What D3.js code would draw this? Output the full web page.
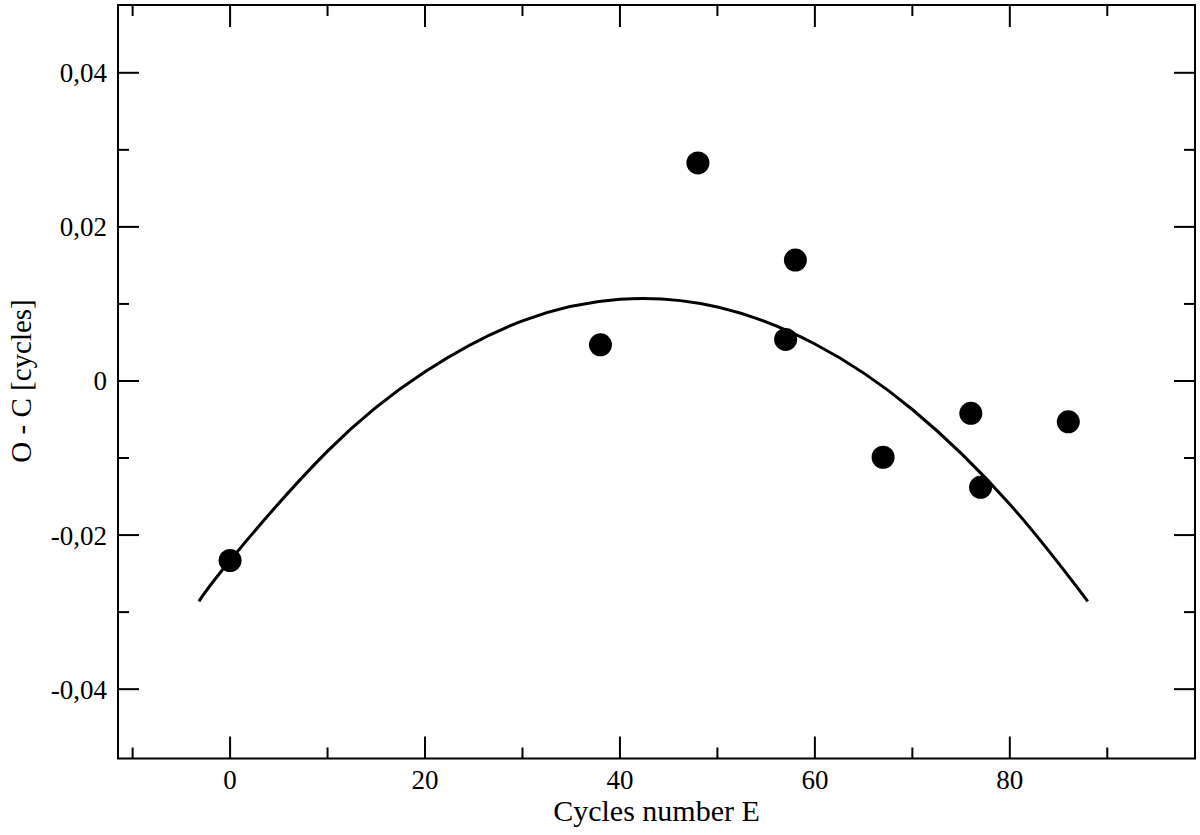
<!DOCTYPE html>
<html>
<head>
<meta charset="utf-8">
<script src="https://cdn.jsdelivr.net/npm/d3@7"></script>
<style>
  body { margin: 0; background: #fff; }
  svg { display: block; }
  text { font-family: "Liberation Serif", "DejaVu Serif", serif; fill: #000; }
</style>
</head>
<body>
<svg id="chart" width="1200" height="835"></svg>
<script>
// Observed minima: cycle number E and O - C residual
var cycles = [0, 38, 48, 57, 58, 67, 76, 77, 86];
var residuals = [-0.0233, 0.0047, 0.0283, 0.0054, 0.0157, -0.0099, -0.0042, -0.0138, -0.0053];

// Fitted curve
var fitE = [-3.2, 0, 10, 20, 30, 40, 50, 60, 70, 80, 88];
var fitOC = [-0.0286, -0.0233, -0.0091, 0.0012, 0.0078, 0.0106, 0.0096, 0.0048, -0.0037, -0.0160, -0.0286];

var xMajor = [0, 20, 40, 60, 80];
var xMinor = [-10, 10, 30, 50, 70, 90];
var yMajor = [-0.04, -0.02, 0, 0.02, 0.04];
var yMinor = [-0.03, -0.01, 0.01, 0.03];

const plotLeft = 118, plotRight = 1195, plotTop = 5, plotBottom = 758.5;

var svg = d3.select("#chart");

var xScale = d3.scaleLinear().domain([-11.5, 99]).range([plotLeft, plotRight]);
var yScale = d3.scaleLinear().domain([-0.049, 0.0488]).range([plotBottom, plotTop]);

// decimal comma and a plain hyphen for the minus sign
function fmt(v) {
    if (v === 0) return "0";
    return d3.format(".2f")(v).replace(".", ",").replace("\u2212", "-");
}

/**** frame ****/
svg.append("rect")
    .attr("x", plotLeft)
    .attr("y", plotTop)
    .attr("width", plotRight - plotLeft)
    .attr("height", plotBottom - plotTop)
    .attr("fill", "none")
    .attr("stroke", "#000")
    .attr("stroke-width", 2);

/**** ticks on all four sides ****/
var ticks = svg.append("g").attr("stroke", "#000").attr("stroke-width", 2);

function xTicks(values, len) {
    values.forEach(function(v) {
        var x = xScale(v);
        ticks.append("line").attr("x1", x).attr("x2", x).attr("y1", plotBottom).attr("y2", plotBottom - len);
        ticks.append("line").attr("x1", x).attr("x2", x).attr("y1", plotTop).attr("y2", plotTop + len);
    });
}
function yTicks(values, len) {
    values.forEach(function(v) {
        var y = yScale(v);
        ticks.append("line").attr("x1", plotLeft).attr("x2", plotLeft + len).attr("y1", y).attr("y2", y);
        ticks.append("line").attr("x1", plotRight).attr("x2", plotRight - len).attr("y1", y).attr("y2", y);
    });
}
xTicks(xMajor, 22);
xTicks(xMinor, 11);
yTicks(yMajor, 21);
yTicks(yMinor, 11);

/**** tick labels ****/
svg.append("g").selectAll("text")
    .data(xMajor)
    .enter()
    .append("text")
    .attr("x", function(d) { return xScale(d); })
    .attr("y", 789)
    .attr("text-anchor", "middle")
    .style("font-size", "27px")
    .text(function(d) { return d; });

svg.append("g").selectAll("text")
    .data(yMajor)
    .enter()
    .append("text")
    .attr("x", 107)
    .attr("y", function(d) { return yScale(d) + 9.5; })
    .attr("text-anchor", "end")
    .style("font-size", "27px")
    .text(fmt);

/**** axis titles ****/
svg.append("text")
    .attr("x", (plotLeft + plotRight) / 2)
    .attr("y", 821)
    .attr("text-anchor", "middle")
    .style("font-size", "30px")
    .text("Cycles number E");

svg.append("text")
    .attr("transform", "translate(31," + yScale(0) + ") rotate(-90)")
    .attr("text-anchor", "middle")
    .style("font-size", "29px")
    .text("O - C [cycles]");

/**** fitted curve ****/
var line = d3.line()
    .x(function(d, i) { return xScale(fitE[i]); })
    .y(function(d) { return yScale(d); })
    .curve(d3.curveNatural);

svg.append("path")
    .datum(fitOC)
    .attr("d", line)
    .attr("fill", "none")
    .attr("stroke", "#000")
    .attr("stroke-width", 3);

/**** observations ****/
svg.append("g").selectAll("circle")
    .data(cycles)
    .enter()
    .append("circle")
    .attr("cx", function(d) { return xScale(d); })
    .attr("cy", function(d, i) { return yScale(residuals[i]); })
    .attr("r", 11.5)
    .attr("fill", "#000");
</script>
</body>
</html>
